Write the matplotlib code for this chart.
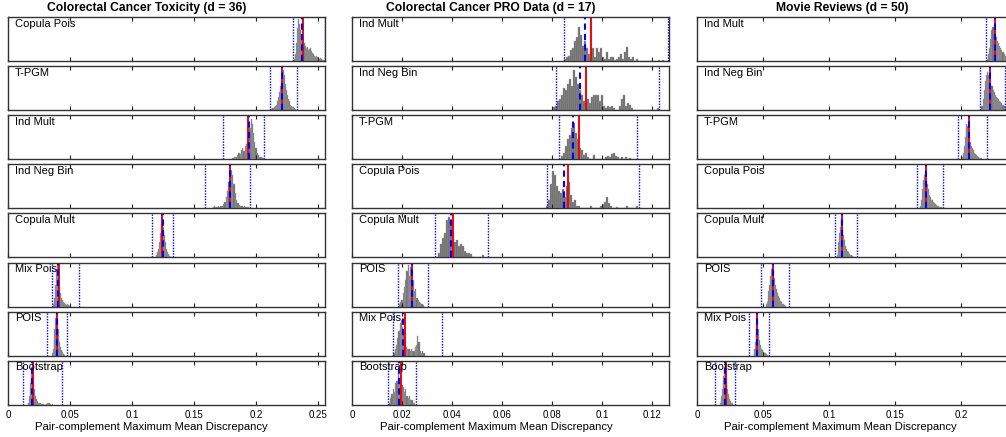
import numpy as np
import matplotlib
matplotlib.use("Agg")
import matplotlib.pyplot as plt

plt.rcParams['font.family'] = ['Liberation Sans', 'DejaVu Sans']

# ---- data ----
titles = ["Colorectal Cancer Toxicity (d = 36)",
          "Colorectal Cancer PRO Data (d = 17)",
          "Movie Reviews (d = 50)"]
xmax = [0.2557, 0.1267, 0.240]
xticks = [[0, 0.05, 0.1, 0.15, 0.2, 0.25],
          [0, 0.02, 0.04, 0.06, 0.08, 0.1, 0.12],
          [0, 0.05, 0.1, 0.15, 0.2]]
xticklabels = [["0", "0.05", "0.1", "0.15", "0.2", "0.25"],
               ["0", "0.02", "0.04", "0.06", "0.08", "0.1", "0.12"],
               ["0", "0.05", "0.1", "0.15", "0.2"]]

labels_tox = ["Copula Pois", "T-PGM", "Ind Mult", "Ind Neg Bin",
              "Copula Mult", "Mix Pois", "POIS", "Bootstrap"]
labels_pro = ["Ind Mult", "Ind Neg Bin", "T-PGM", "Copula Pois",
              "Copula Mult", "POIS", "Mix Pois", "Bootstrap"]
labels_mov = ["Ind Mult", "Ind Neg Bin", "T-PGM", "Copula Pois",
              "Copula Mult", "POIS", "Mix Pois", "Bootstrap"]

# red = observed value, mean = dashed blue, lo/hi = dotted blue
red_tox = [0.2376, 0.221, 0.1938, 0.179, 0.1245, 0.0411, 0.0392, 0.0204]
mean_tox = [0.2368, 0.221, 0.194, 0.1793, 0.1247, 0.0403, 0.0392, 0.0196]
lo_tox = [0.230, 0.2113, 0.1731, 0.1589, 0.116, 0.0352, 0.0312, 0.0118]
hi_tox = [0.2553, 0.2333, 0.2065, 0.1952, 0.133, 0.0573, 0.0476, 0.0435]

red_pro = [0.0957, 0.0935, 0.0906, 0.0865, 0.0402, 0.0238, 0.0211, 0.0194]
mean_pro = [0.0931, 0.0911, 0.0884, 0.0847, 0.0394, 0.0238, 0.0205, 0.0189]
lo_pro = [0.0846, 0.0814, 0.0827, 0.0778, 0.0333, 0.0182, 0.0163, 0.0145]
hi_pro = [0.1265, 0.1227, 0.1138, 0.1147, 0.0545, 0.0304, 0.0361, 0.0256]

red_mov = [0.2258, 0.222, 0.2058, 0.1735, 0.1098, 0.0576, 0.0455, 0.0217]
mean_mov = [0.2256, 0.2218, 0.2056, 0.1733, 0.1096, 0.0576, 0.0453, 0.0215]
lo_mov = [0.2187, 0.2139, 0.1975, 0.1667, 0.1043, 0.0487, 0.0394, 0.0134]
hi_mov = [0.2365, 0.2330, 0.2197, 0.1866, 0.1212, 0.0697, 0.0548, 0.0288]

# histogram ranges (lo, hi) and bar heights (fraction of panel height)
hr_tox = [(0.231, 0.2555), (0.2125, 0.2325), (0.181, 0.2065), (0.165, 0.1945),
          (0.119, 0.1325), (0.0365, 0.051), (0.0355, 0.046), (0.0165, 0.036)]
hist_tox = [
    [0.05, 0.15, 0.4, 0.75, 0.95, 0.85, 0.7, 0.55, 0.45, 0.4, 0.35, 0.3, 0.32, 0.25, 0.28,
     0.3, 0.22, 0.18, 0.15, 0.12, 0.1, 0.12, 0.08, 0.06, 0.05, 0.07, 0.04, 0.03, 0.02, 0.03],
    [0.03, 0.05, 0.08, 0.1, 0.12, 0.2, 0.3, 0.42, 0.55, 0.7, 0.85, 0.92, 0.8, 0.6, 0.45,
     0.35, 0.25, 0.2, 0.12, 0.1, 0.06, 0.08, 0.04, 0.02],
    [0.02, 0.04, 0.06, 0.05, 0.1, 0.15, 0.12, 0.2, 0.25, 0.18, 0.3, 0.35, 0.4, 0.55, 0.7,
     0.92, 0.8, 0.6, 0.4, 0.25, 0.15, 0.1, 0.06, 0.04, 0.02, 0.02],
    [0.03, 0.05, 0.04, 0.02, 0.06, 0.04, 0.05, 0.06, 0.1, 0.15, 0.25, 0.4, 0.6, 0.8, 0.87,
     0.75, 0.55, 0.35, 0.2, 0.12, 0.08, 0.05, 0.06, 0.04, 0.05, 0.03, 0.04, 0.02],
    [0.03, 0.06, 0.12, 0.2, 0.35, 0.55, 0.75, 0.88, 0.7, 0.5, 0.35, 0.2, 0.12, 0.08, 0.05,
     0.03, 0.02, 0.02],
    [0.05, 0.2, 0.5, 0.85, 0.95, 0.7, 0.45, 0.3, 0.2, 0.15, 0.1, 0.08, 0.06, 0.04, 0.05,
     0.03, 0.02, 0.02],
    [0.05, 0.15, 0.35, 0.6, 0.85, 0.95, 0.8, 0.6, 0.45, 0.3, 0.2, 0.12, 0.08, 0.05, 0.03, 0.02],
    [0.05, 0.2, 0.5, 0.72, 0.75, 0.55, 0.35, 0.2, 0.12, 0.08, 0.05, 0.04, 0.03, 0.02, 0.02,
     0.01, 0.01, 0.0, 0.0, 0.02, 0.03, 0.04, 0.03, 0.02, 0.0, 0.01],
]

hr_pro = [(0.0848, 0.1264), (0.0805, 0.1237), (0.0835, 0.1115), (0.0775, 0.1143),
          (0.0345, 0.0529), (0.0187, 0.0287), (0.0165, 0.029), (0.0147, 0.0252)]
hist_pro = [
    [0.05, 0.08, 0.12, 0.25, 0.3, 0.45, 0.55, 0.78, 0.6, 0.35, 0.45, 0.3, 0.15, 0.25, 0.3,
     0.1, 0.3, 0.2, 0.3, 0.1, 0.05, 0.2, 0.05, 0.1, 0.08, 0.03, 0.05, 0.1, 0.15, 0.05,
     0.2, 0.32, 0.1, 0.05, 0.08, 0.0, 0.04, 0.0, 0, 0, 0, 0, 0, 0, 0, 0, 0, 0.03,
     0.0, 0.03, 0.0, 0.0],
    [0.08, 0.1, 0.2, 0.25, 0.35, 0.5, 0.45, 0.6, 0.7, 0.55, 0.9, 0.75, 0.6, 0.45, 0.35,
     0.2, 0.1, 0.25, 0.15, 0.3, 0.35, 0.35, 0.35, 0.2, 0.35, 0.1, 0.05, 0.1, 0.08, 0.1,
     0.05, 0.0, 0.0, 0.1, 0.25, 0.35, 0.1, 0.15, 0.12, 0.05, 0, 0, 0, 0, 0, 0, 0, 0,
     0, 0, 0, 0, 0.05, 0],
    [0.08, 0.15, 0.3, 0.45, 0.55, 0.7, 0.83, 0.6, 0.45, 0.25, 0.2, 0.1, 0.15, 0.05, 0,
     0.0, 0.1, 0, 0, 0, 0, 0, 0.05, 0.08, 0.05, 0.12, 0.15, 0.08, 0.05, 0, 0.04, 0,
     0.05, 0, 0.03],
    [0.05, 0.2, 0.55, 0.85, 0.75, 0.5, 0.4, 0.35, 0.45, 0.25, 0.5, 0.6, 0.3, 0.15, 0.2,
     0.05, 0.05, 0, 0, 0, 0, 0, 0.05, 0, 0, 0, 0, 0.05, 0.1, 0.15, 0.25, 0.12, 0.05,
     0, 0, 0.04, 0, 0, 0, 0, 0.05, 0, 0, 0, 0, 0.05],
    [0.1, 0.3, 0.45, 0.55, 0.85, 0.92, 0.75, 0.6, 0.35, 0.4, 0.25, 0.3, 0.25, 0.15, 0.1,
     0.1, 0.08, 0, 0, 0, 0, 0, 0.05],
    [0.05, 0.1, 0.15, 0.3, 0.45, 0.6, 0.8, 0.95, 0.7, 0.9, 0.55, 0.6, 0.35, 0.4, 0.2,
     0.15, 0.1, 0.08, 0.05, 0.03],
    [0.05, 0.15, 0.25, 0.4, 0.55, 0.75, 0.8, 0.65, 0.5, 0.35, 0.2, 0.15, 0.15, 0.1, 0.15,
     0.1, 0.1, 0.2, 0.25, 0.45, 0.3, 0.1, 0.05, 0.1, 0.05],
    [0.05, 0.15, 0.25, 0.35, 0.3, 0.5, 0.55, 0.75, 0.6, 0.65, 0.45, 0.4, 0.3, 0.35, 0.2,
     0.15, 0.2, 0.1, 0.1, 0.05, 0.05],
]

hr_mov = [(0.2195, 0.238), (0.2145, 0.238), (0.2005, 0.2159), (0.169, 0.1858),
          (0.1058, 0.1202), (0.052, 0.0674), (0.0428, 0.0538), (0.0175, 0.0275)]
hist_mov = [
    [0.05, 0.15, 0.3, 0.5, 0.7, 0.78, 0.75, 0.6, 0.55, 0.45, 0.4, 0.35, 0.3, 0.25, 0.2,
     0.15, 0.12, 0.1, 0.08, 0.05, 0.03, 0.02],
    [0.03, 0.1, 0.25, 0.45, 0.65, 0.8, 0.87, 0.8, 0.7, 0.6, 0.55, 0.45, 0.4, 0.35, 0.3,
     0.28, 0.25, 0.2, 0.18, 0.15, 0.12, 0.1, 0.08, 0.06, 0.05, 0.04, 0.03, 0.02],
    [0.05, 0.15, 0.3, 0.5, 0.7, 0.8, 0.75, 0.6, 0.5, 0.4, 0.3, 0.25, 0.2, 0.15, 0.12,
     0.1, 0.08, 0.06, 0.05, 0.03, 0.02, 0.02],
    [0.05, 0.2, 0.45, 0.65, 0.75, 0.8, 0.7, 0.55, 0.45, 0.35, 0.3, 0.25, 0.2, 0.18, 0.15,
     0.12, 0.1, 0.08, 0.06, 0.05, 0.04, 0.03, 0.02, 0.02],
    [0.05, 0.15, 0.35, 0.55, 0.7, 0.85, 0.87, 0.7, 0.5, 0.4, 0.3, 0.25, 0.2, 0.15, 0.12,
     0.1, 0.08, 0.06, 0.05, 0.04, 0.03, 0.02, 0.02, 0.01],
    [0.05, 0.1, 0.2, 0.35, 0.5, 0.7, 0.85, 0.9, 0.8, 0.65, 0.5, 0.4, 0.3, 0.25, 0.2,
     0.15, 0.12, 0.1, 0.06, 0.05, 0.03, 0.02],
    [0.05, 0.15, 0.3, 0.5, 0.7, 0.85, 0.8, 0.6, 0.45, 0.35, 0.25, 0.2, 0.15, 0.12, 0.1,
     0.08, 0.06, 0.08, 0.05, 0.03, 0.02, 0.02],
    [0.03, 0.1, 0.2, 0.35, 0.5, 0.65, 0.8, 0.83, 0.75, 0.6, 0.45, 0.35, 0.25, 0.18, 0.12,
     0.08, 0.06, 0.04, 0.03, 0.02],
]

columns = [
    (labels_tox, red_tox, mean_tox, lo_tox, hi_tox, hr_tox, hist_tox),
    (labels_pro, red_pro, mean_pro, lo_pro, hi_pro, hr_pro, hist_pro),
    (labels_mov, red_mov, mean_mov, lo_mov, hi_mov, hr_mov, hist_mov),
]

# ---- layout (pixels) ----
W, H = 1006, 437
fig = plt.figure(figsize=(W / 100, H / 100), dpi=100)
col_left = [8, 352, 697]
title_cx = [147, 491, 842]
xlabel_cx = [151, 496, 840]
ax_w = 317
row_top0, row_pitch, ax_h = 17, 49.1, 44

for c, (labels, red, mean, lo, hi, hr, hist) in enumerate(columns):
    for r in range(8):
        top = row_top0 + r * row_pitch
        ax = fig.add_axes([col_left[c] / W, 1 - (top + ax_h) / H, ax_w / W, ax_h / H])
        h = np.array(hist[r])
        edges = np.linspace(hr[r][0], hr[r][1], len(h) + 1)
        ax.bar(edges[:-1], h, width=edges[1] - edges[0], align='edge',
               color='#686868', edgecolor='#a5a5a5', linewidth=0.3)
        ax.axvline(red[r], color='red', lw=1.4)
        ax.axvline(mean[r], color='blue', lw=1.5, ls=(0, (3, 2)))
        ax.axvline(lo[r], color='blue', lw=1.0, ls=(0, (1, 1)))
        ax.axvline(hi[r], color='blue', lw=1.0, ls=(0, (1, 1)))
        ax.set_xlim(0, xmax[c])
        ax.set_ylim(0, 1)
        ax.set_yticks([])
        ax.set_xticks(xticks[c])
        ax.tick_params(axis='x', direction='in', top=True, length=3, width=0.8,
                       color='#222222', labelsize=7, pad=4)
        if r < 7:
            ax.set_xticklabels([])
        else:
            ax.set_xticklabels(xticklabels[c])
        for s in ax.spines.values():
            s.set_color('#333333')
            s.set_linewidth(1.0)
        ax.text(0.022, 0.96, labels[r], transform=ax.transAxes, ha='left', va='top',
                fontsize=8)
    fig.text(title_cx[c] / W, 1 - 8.5 / H, titles[c], ha='center', va='center',
             fontsize=8.7, fontweight='bold')
    fig.text(xlabel_cx[c] / W, 1 - 427 / H, "Pair-complement Maximum Mean Discrepancy",
             ha='center', va='center', fontsize=8.1)

fig.savefig("out.png", dpi=100)
